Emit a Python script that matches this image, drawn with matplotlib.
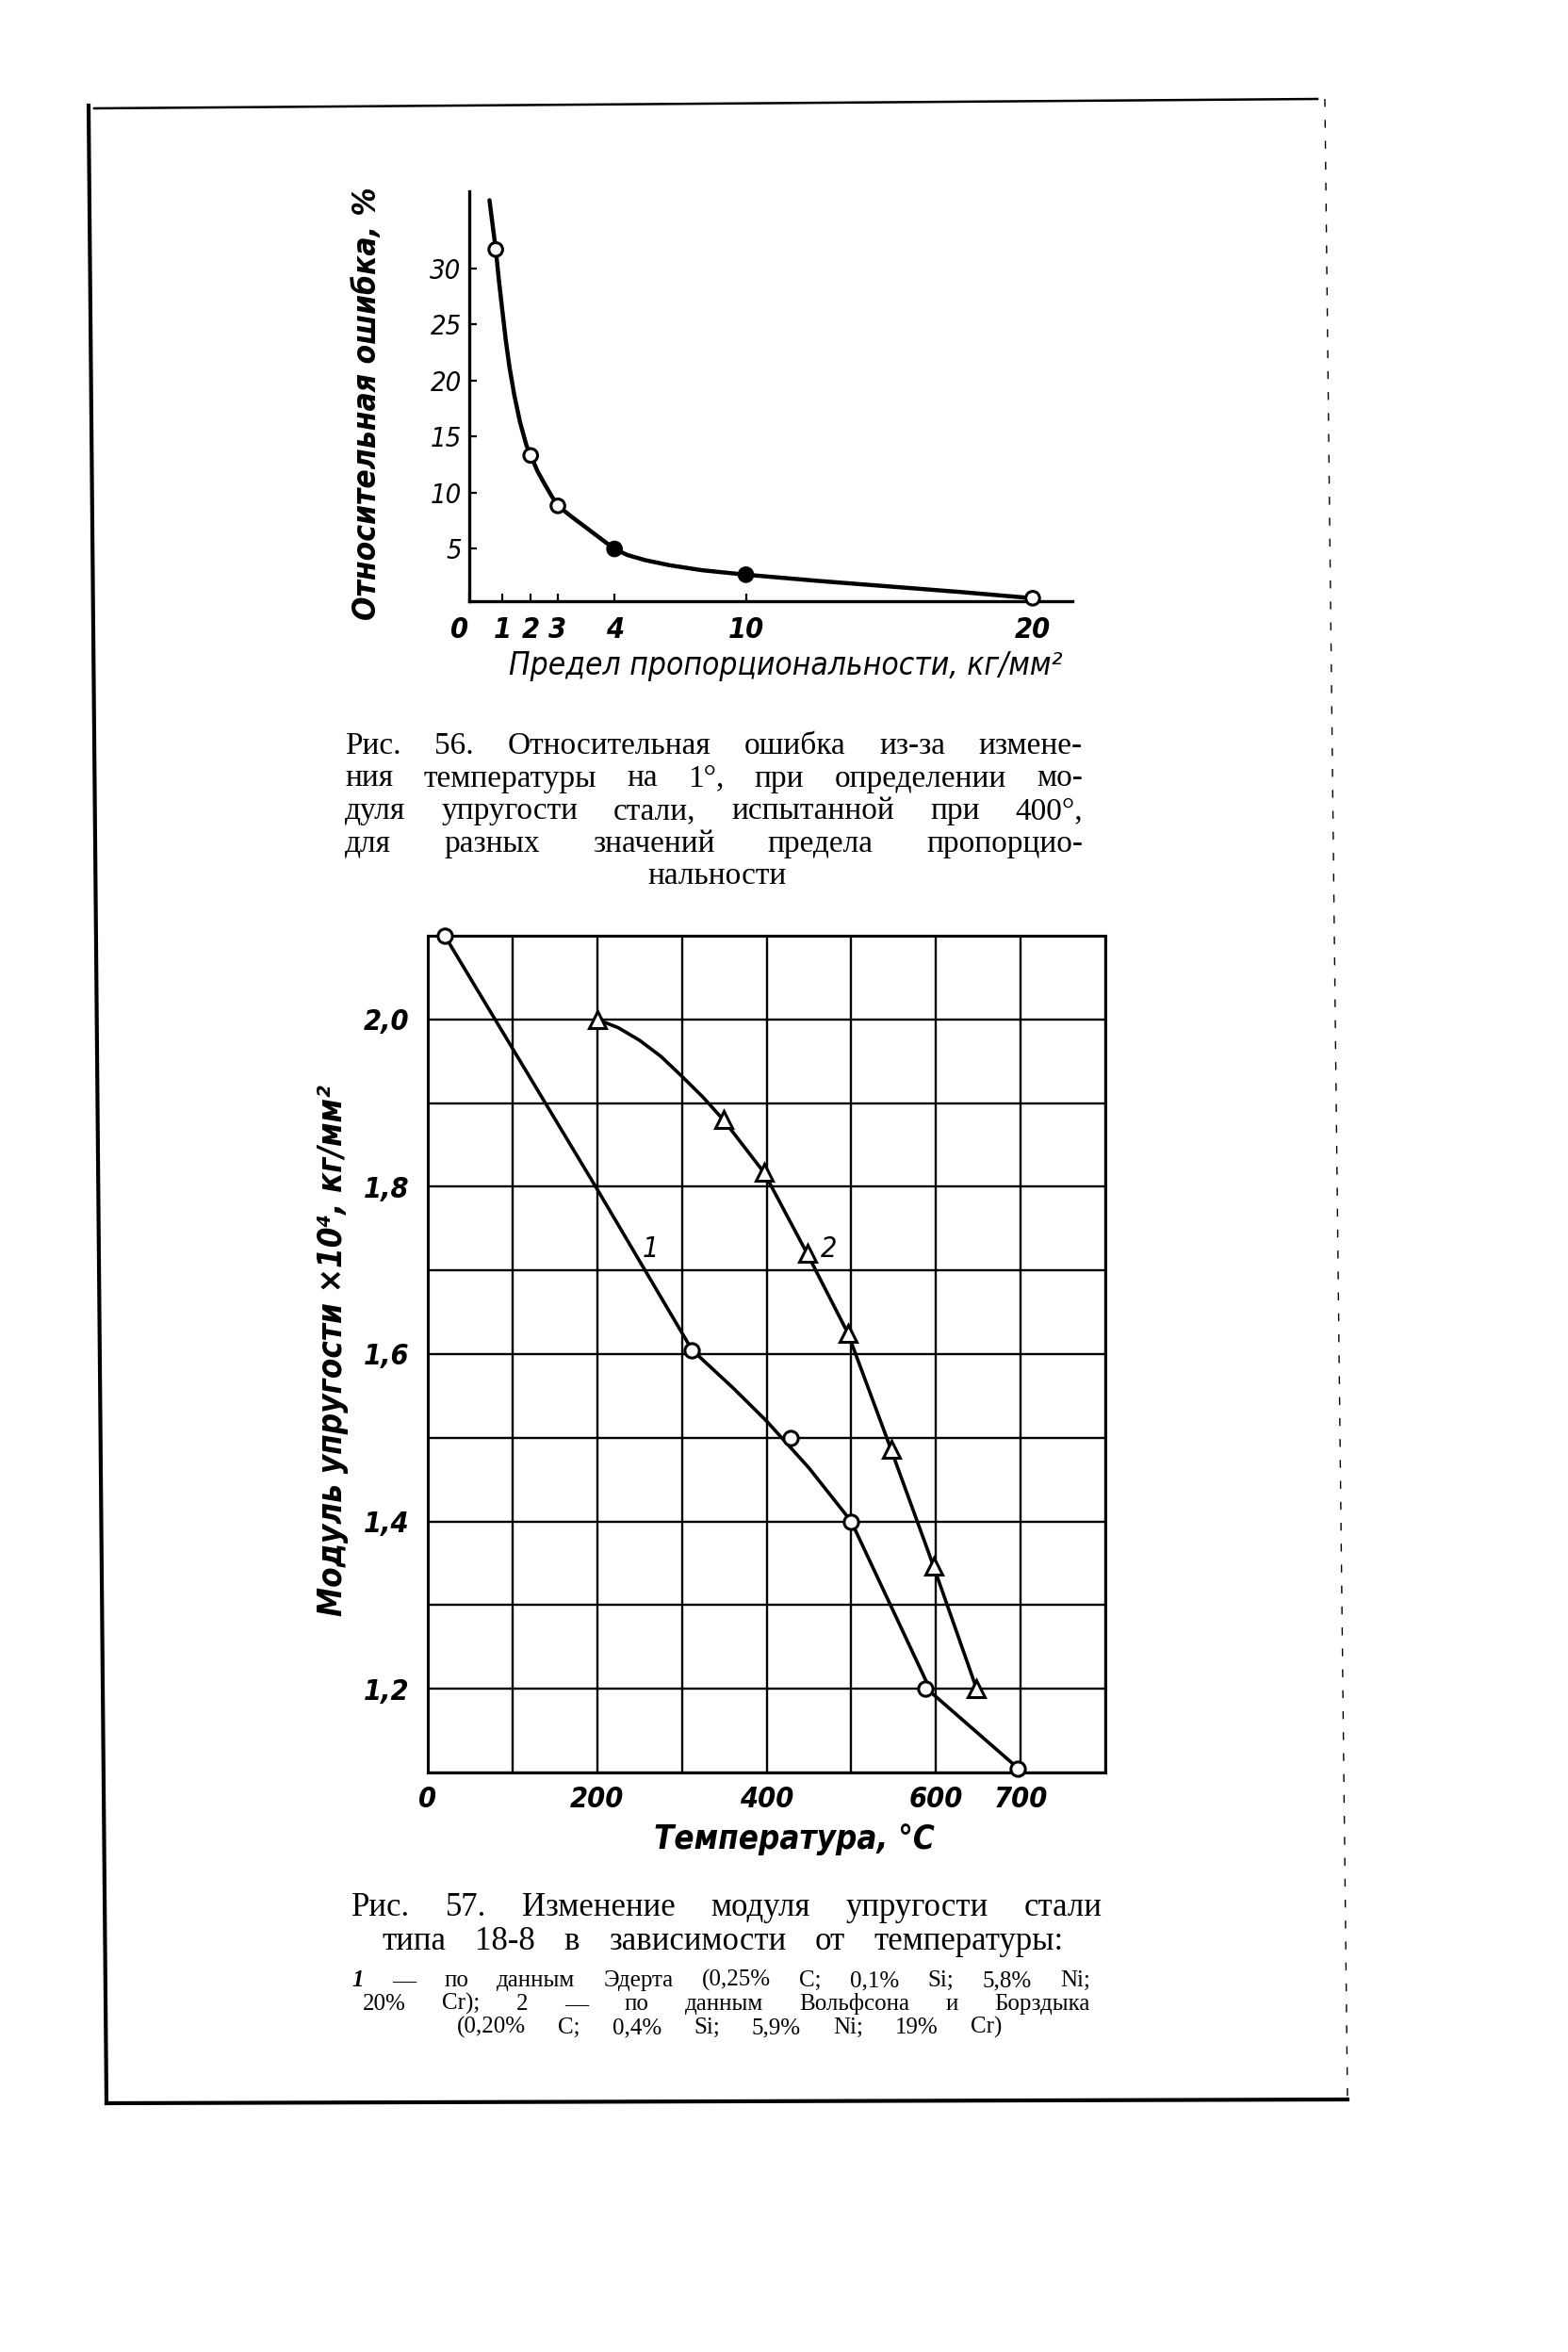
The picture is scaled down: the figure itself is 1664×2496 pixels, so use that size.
import numpy as np
import matplotlib
matplotlib.use('Agg')
import matplotlib.pyplot as plt
from matplotlib.lines import Line2D
from matplotlib.transforms import ScaledTranslation

W, H = 1664, 2496

# Рис. 56 -- the printed x axis is not uniform, so ticks sit where the book put them
limit_ticks = [0, 1, 2, 3, 4, 10, 20]
limit_tick_labels = ['0', '1', '2', '3', '4', '10', '20']
limit_tick_pos = [0, 1.17, 2.17, 3.13, 5.13, 9.77, 19.9]
err_ticks = [5, 10, 15, 20, 25, 30]

err_x = [0.8, 2, 3, 4, 10, 20]
err_y = [31.7, 13.3, 8.8, 4.95, 2.65, 0.55]
err_face = ['white', 'white', 'white', 'black', 'black', 'white']
err_curve_x = [0.61, 0.7, 0.8, 0.9, 1.0, 1.12, 1.25, 1.42, 1.62, 1.85, 2.0, 2.25, 2.5, 2.75,
               3.0, 3.25, 3.5, 3.75, 4.0, 4.6, 5.4, 6.5, 8.0, 10, 12.5, 15, 17.5, 20]
err_curve_y = [36.1, 34.0, 31.7, 28.8, 26.2, 23.6, 21.2, 18.7, 16.3, 14.2, 13.3, 11.9, 10.8, 9.75,
               8.8, 7.8, 6.85, 5.9, 4.95, 4.4, 3.95, 3.5, 3.05, 2.65, 2.1, 1.6, 1.1, 0.55]

# Рис. 57
temp_grid = list(range(0, 801, 100))
temp_labels = {0: '0', 200: '200', 400: '400', 600: '600', 700: '700'}
mod_grid = [1.1, 1.2, 1.3, 1.4, 1.5, 1.6, 1.7, 1.8, 1.9, 2.0, 2.1]
mod_labels = {1.2: '1,2', 1.4: '1,4', 1.6: '1,6', 1.8: '1,8', 2.0: '2,0'}

# 1 - Эдерт
ed_x = [20, 312, 428, 500, 587, 697]
ed_y = [2.1, 1.605, 1.5, 1.4, 1.2, 1.105]
ed_line_x = [20, 200, 312, 360, 400, 450, 500, 595, 697]
ed_line_y = [2.1, 1.797, 1.605, 1.56, 1.52, 1.464, 1.4, 1.195, 1.105]
# 2 - Вольфсон и Борздык
wb_x = [200, 349, 397, 448, 496, 547, 597, 648]
wb_y = [2.0, 1.88, 1.817, 1.72, 1.625, 1.486, 1.347, 1.2]
wb_line_x = [200, 225, 250, 275, 300, 325, 349, 397, 448, 496, 547, 597, 648]
wb_line_y = [2.0, 1.99, 1.975, 1.956, 1.932, 1.907, 1.88, 1.817, 1.72, 1.625, 1.486, 1.347, 1.2]

cap56 = ['Рис. 56. Относительная ошибка из-за измене-',
         'ния температуры на 1°, при определении мо-',
         'дуля упругости стали, испытанной при 400°,',
         'для разных значений предела пропорцио-',
         'нальности']
cap57 = ['Рис. 57. Изменение модуля упругости стали',
         'типа 18-8 в зависимости от температуры:',
         '1 — по данным Эдерта (0,25% C; 0,1% Si; 5,8% Ni;',
         '20% Cr); 2 — по данным Вольфсона и Борздыка',
         '(0,20% C; 0,4% Si; 5,9% Ni; 19% Cr)']

plt.rcParams['font.family'] = ['DejaVu Sans']
SANS = dict(family=['DejaVu Sans'], fontstretch='condensed', style='italic')
SERIF = ['Liberation Serif', 'DejaVu Serif']

fig = plt.figure(figsize=(W / 100, H / 100), dpi=100)
fig.patch.set_facecolor('white')


def px(x, y):
    return x / W, 1 - y / H


def ftext(x, y, s, **kw):
    return fig.text(*px(x, y), s, **kw)


def justify(line, x0, x1, y, size, family):
    words = line.split(' ')
    rend = fig.canvas.get_renderer()
    objs = [ftext(x0, y, w, fontsize=size, family=family, va='baseline', ha='left') for w in words]
    widths = [o.get_window_extent(rend).width for o in objs]
    gap = (x1 - x0 - sum(widths)) / max(len(words) - 1, 1)
    x = x0
    for o, w in zip(objs, widths):
        o.set_position(px(x, y))
        x += w + gap
    return objs


# ---------- top chart ----------
fwd = lambda v: np.interp(v, limit_ticks + [25], limit_tick_pos + [24.9])
inv = lambda v: np.interp(v, limit_tick_pos + [24.9], limit_ticks + [25])

ax1 = fig.add_axes([498 / W, 1 - 637.8 / H, 640 / W, 434.8 / H])
ax1.set_xscale('function', functions=(fwd, inv))
ax1.set_xlim(0, 21.4)
ax1.set_ylim(0.3, 36.9)
for s in ['top', 'right']:
    ax1.spines[s].set_visible(False)
for s in ['left', 'bottom']:
    ax1.spines[s].set_linewidth(2.4)
ax1.plot(err_curve_x, err_curve_y, color='black', lw=3.2, solid_joinstyle='round',
         solid_capstyle='round', clip_on=False)
ax1.scatter(err_x, err_y, s=110, facecolors=err_face, edgecolors='black', linewidths=2.2,
            zorder=3, clip_on=False)
ax1.set_xticks(limit_ticks)
ax1.set_xticklabels(limit_tick_labels)
ax1.set_yticks(err_ticks)
ax1.set_yticklabels([str(t) for t in err_ticks])
ax1.tick_params(direction='in', length=6, width=1.6, pad=6)
ax1.tick_params(axis='x', pad=12)
for lab in ax1.get_xticklabels():
    lab.set(fontsize=22, weight='bold', **SANS)
for lab in ax1.get_yticklabels():
    lab.set(fontsize=21, **SANS)
first = ax1.get_xticklabels()[0]
first.set_transform(first.get_transform() + ScaledTranslation(-0.1, 0, fig.dpi_scale_trans))

ftext(390, 428, 'Относительная ошибка, %', rotation=90, ha='center', va='center',
      fontsize=24, weight='bold', **SANS)
ftext(834, 707, 'Предел пропорциональности, кг/мм²', ha='center', va='center',
      fontsize=24, **SANS)

for i, line in enumerate(cap56[:4]):
    justify(line, 366, 1149, 800 + 34.5 * i, 24, SERIF)
ftext(761, 938, cap56[4], ha='center', va='baseline', fontsize=24, family=SERIF)

# ---------- bottom chart ----------
ax2 = fig.add_axes([454 / W, 1 - 1881 / H, 719 / W, 888 / H])
ax2.set_xlim(0, 800)
ax2.set_ylim(1.1, 2.1)
ax2.set_xticks(temp_grid)
ax2.set_xticklabels([temp_labels.get(t, '') for t in temp_grid])
ax2.set_yticks(mod_grid)
ax2.set_yticklabels([mod_labels.get(round(t, 1), '') for t in mod_grid])
ax2.grid(True, color='black', lw=1.7)
for s in ax2.spines.values():
    s.set_linewidth(2.2)
ax2.tick_params(length=0, pad=14)
ax2.tick_params(axis='x', pad=10)
for lab in ax2.get_xticklabels() + ax2.get_yticklabels():
    lab.set(fontsize=22, weight='bold', **SANS)

ax2.plot(ed_line_x, ed_line_y, color='black', lw=2.6, solid_joinstyle='round', clip_on=False)
ax2.plot(wb_line_x, wb_line_y, color='black', lw=2.6, solid_joinstyle='round', clip_on=False)
ax2.plot(ed_x, ed_y, 'o', ms=11, mfc='white', mec='black', mew=2.2, clip_on=False, zorder=4)
ax2.plot(wb_x, wb_y, '^', ms=13, mfc='white', mec='black', mew=2.2, clip_on=False, zorder=4)
ax2.text(263, 1.725, '1', fontsize=22, ha='center', va='center', **SANS)
ax2.text(474, 1.725, '2', fontsize=22, ha='center', va='center', **SANS)

ftext(353, 1433, 'Модуль упругости ×10⁴, кг/мм²', rotation=90, ha='center', va='center',
      fontsize=25, weight='bold', **SANS)
ftext(843, 1952, 'Температура, °С', ha='center', va='center', fontsize=25, weight='bold', **SANS)

justify(cap57[0], 373, 1170, 2033, 25, SERIF)
justify(cap57[1], 405, 1129, 2069, 25, SERIF)
lead = justify(cap57[2], 373, 1157, 2108, 18, SERIF)
lead[0].set(style='italic', weight='bold')
justify(cap57[3], 385, 1157, 2133, 18, SERIF)
justify(cap57[4], 485, 1063, 2158, 18, SERIF)

# page frame from the scan
frame = [((100, 115), (1398, 105), 1.8, '-'),
         ((94, 112), (113, 2232), 3.0, '-'),
         ((113, 2232), (1430, 2228), 3.0, '-'),
         ((1406, 105), (1430, 2228), 1.0, (0, (6, 10)))]
for (xa, ya), (xb, yb), lw, ls in frame:
    fig.add_artist(Line2D([xa / W, xb / W], [1 - ya / H, 1 - yb / H], transform=fig.transFigure,
                          color='black', lw=lw, linestyle=ls))

fig.savefig('out.png', dpi=100, facecolor='white')
